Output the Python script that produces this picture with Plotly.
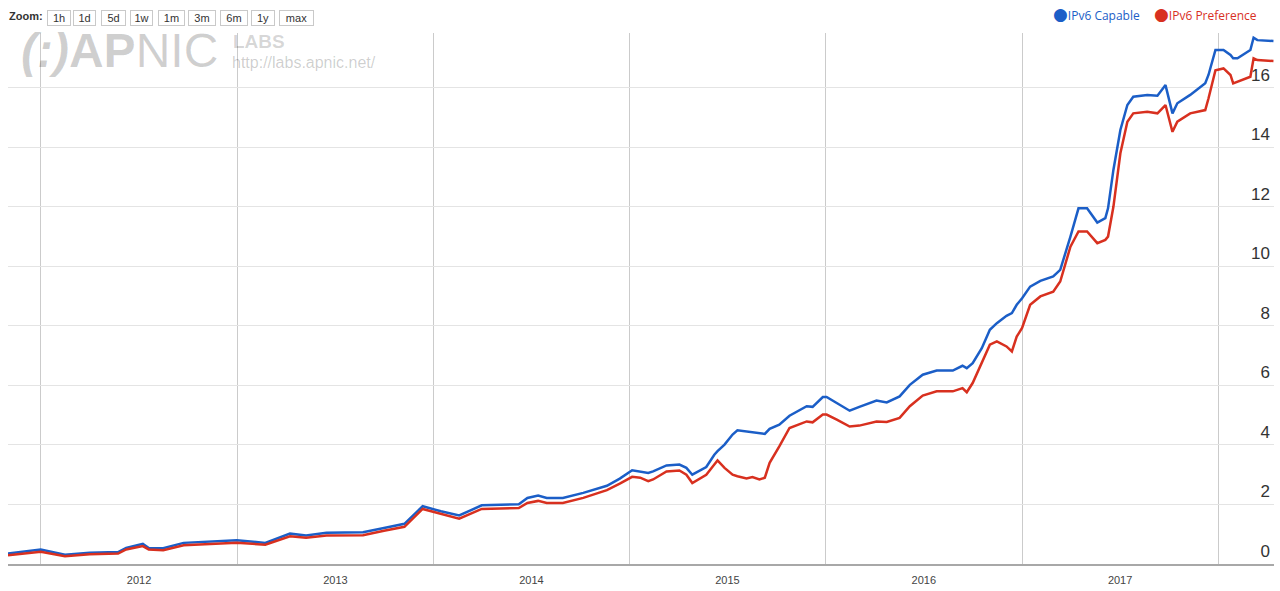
import plotly.graph_objects as go

# ---------------- data ----------------
dates = [
    "2011-11-01", "2012-01-01", "2012-02-15", "2012-04-01", "2012-05-24", "2012-06-08",
    "2012-07-09", "2012-07-20", "2012-08-16", "2012-09-23", "2012-12-31", "2013-02-22",
    "2013-04-09", "2013-05-09", "2013-06-16", "2013-08-23", "2013-10-01", "2013-11-08",
    "2013-12-12", "2014-01-15", "2014-02-18", "2014-04-01", "2014-06-09", "2014-06-25",
    "2014-07-15", "2014-07-31", "2014-08-30", "2014-10-07", "2014-11-20", "2014-12-14",
    "2015-01-06", "2015-01-21", "2015-02-05", "2015-02-14", "2015-03-11", "2015-04-04",
    "2015-04-17", "2015-04-28", "2015-05-24", "2015-06-08", "2015-06-14", "2015-06-27",
    "2015-07-12", "2015-07-21", "2015-08-07", "2015-08-18", "2015-08-31", "2015-09-10",
    "2015-09-19", "2015-10-07", "2015-10-26", "2015-11-27", "2015-12-08", "2015-12-27",
    "2016-01-03", "2016-01-22", "2016-02-15", "2016-03-04", "2016-04-05", "2016-04-24",
    "2016-05-18", "2016-06-06", "2016-06-30", "2016-07-26", "2016-08-25", "2016-09-12",
    "2016-09-20", "2016-10-01", "2016-10-18", "2016-11-02", "2016-11-15", "2016-12-03",
    "2016-12-13", "2016-12-22", "2017-01-01", "2017-01-16", "2017-02-04", "2017-02-28",
    "2017-03-13", "2017-04-01", "2017-04-16", "2017-05-02", "2017-05-21", "2017-06-05",
    "2017-06-10", "2017-06-20", "2017-07-03", "2017-07-16", "2017-07-27", "2017-08-22",
    "2017-09-10", "2017-09-25", "2017-10-08", "2017-10-17", "2017-11-10", "2017-12-08",
    "2017-12-14", "2017-12-27", "2018-01-11", "2018-01-24", "2018-01-29", "2018-02-06",
    "2018-03-02", "2018-03-08", "2018-03-15", "2018-04-14",
]
ipv6_capable = [
    0.35, 0.49, 0.31, 0.38, 0.40, 0.54,
    0.68, 0.54, 0.53, 0.71, 0.80, 0.71,
    1.02, 0.96, 1.05, 1.07, 1.21, 1.35,
    1.94, 1.77, 1.63, 1.97, 2.01, 2.22,
    2.30, 2.22, 2.22, 2.39, 2.63, 2.87,
    3.15, 3.11, 3.06, 3.11, 3.31, 3.34,
    3.23, 3.00, 3.26, 3.67, 3.79, 4.01,
    4.35, 4.49, 4.45, 4.42, 4.37, 4.37,
    4.54, 4.68, 4.98, 5.30, 5.28, 5.61,
    5.61, 5.41, 5.15, 5.28, 5.49, 5.43,
    5.63, 6.02, 6.36, 6.50, 6.50, 6.66,
    6.58, 6.75, 7.25, 7.87, 8.09, 8.34,
    8.43, 8.71, 8.93, 9.32, 9.51, 9.66,
    9.88, 11.00, 11.95, 11.95, 11.47, 11.62,
    11.95, 13.24, 14.58, 15.42, 15.70, 15.76,
    15.73, 16.09, 15.14, 15.48, 15.76, 16.15,
    16.43, 17.27, 17.27, 17.10, 16.99, 16.99,
    17.27, 17.68, 17.60, 17.57,
]
ipv6_preference = [
    0.29, 0.41, 0.26, 0.33, 0.35, 0.49,
    0.60, 0.49, 0.46, 0.63, 0.71, 0.65,
    0.93, 0.88, 0.96, 0.97, 1.12, 1.25,
    1.85, 1.68, 1.52, 1.85, 1.88, 2.05,
    2.12, 2.05, 2.05, 2.22, 2.48, 2.70,
    2.93, 2.90, 2.78, 2.84, 3.11, 3.14,
    3.00, 2.72, 3.00, 3.34, 3.48, 3.23,
    3.00, 2.95, 2.87, 2.92, 2.84, 2.90,
    3.40, 3.95, 4.57, 4.79, 4.76, 5.02,
    5.02, 4.85, 4.62, 4.65, 4.79, 4.77,
    4.91, 5.30, 5.66, 5.80, 5.80, 5.91,
    5.77, 6.08, 6.75, 7.37, 7.48, 7.31,
    7.14, 7.64, 7.93, 8.71, 8.99, 9.15,
    9.49, 10.66, 11.17, 11.17, 10.78, 10.89,
    11.00, 12.00, 13.80, 14.86, 15.14, 15.19,
    15.14, 15.42, 14.52, 14.86, 15.14, 15.25,
    15.64, 16.59, 16.65, 16.43, 16.15, 16.20,
    16.37, 16.99, 16.93, 16.90,
]
series_names = ["IPv6 Capable", "IPv6 Preference"]
y_ticks = [0, 2, 4, 6, 8, 10, 12, 14, 16]
zoom_labels = ["1h", "1d", "5d", "1w", "1m", "3m", "6m", "1y", "max"]

# ---------------- layout constants ----------------
W, H = 1280, 591
ML, MR, MT, MB = 8, 6, 33, 27
PW, PH = W - ML - MR, H - MT - MB
BLUE = "#1b5ec7"
RED = "#d8301f"
FONT = "Liberation Sans, Arial, sans-serif"
LEGEND_FONT = "Open Sans, sans-serif"


def px_x(px):
    return (px - ML) / PW


def px_y(py):
    return (H - MB - py) / PH


fig = go.Figure()
legend_ids = ["legend", "legend2"]
for name, vals, col, lid in [(series_names[0], ipv6_capable, BLUE, legend_ids[0]),
                             (series_names[1], ipv6_preference, RED, legend_ids[1])]:
    fig.add_trace(go.Scatter(
        x=dates, y=vals, mode="lines", name=name,
        line=dict(color=col, width=2.5), showlegend=False,
    ))
    # legend entry: coloured dot glyph + coloured text
    fig.add_trace(go.Scatter(
        x=[None], y=[None], mode="markers",
        marker=dict(color="rgba(0,0,0,0)", size=1),
        name=(f"<span style='color:{col};font-size:17px;font-family:DejaVu Sans'>●</span>"
              f"<span style='color:{col}'>{name}</span>"),
        showlegend=True, legend=lid,
    ))

annotations = []
# zoom control
annotations.append(dict(
    text="<b>Zoom:</b>", x=px_x(7), y=px_y(16), xref="paper", yref="paper",
    xanchor="left", yanchor="middle", showarrow=False,
    font=dict(family=FONT, size=11, color="#333"),
))
button_boxes = [(48, 70), (74, 95), (102, 125), (131, 152), (159, 184),
                (189, 215), (221, 247), (252, 274), (280, 313)]
for lab, (l, r) in zip(zoom_labels, button_boxes):
    annotations.append(dict(
        text=lab, x=px_x((l + r) / 2), y=px_y(17.5), xref="paper", yref="paper",
        xanchor="center", yanchor="middle", showarrow=False,
        width=r - l - 2, height=12, borderpad=1,
        bordercolor="#c9c9c9", borderwidth=1, bgcolor="#ffffff",
        font=dict(family=FONT, size=11, color="#333"),
    ))
# watermark logo
annotations.append(dict(
    text="<i><b>(:)</b></i><b>AP</b>NIC", x=px_x(19), y=px_y(50),
    xref="paper", yref="paper", xanchor="left", yanchor="middle", showarrow=False,
    font=dict(family=FONT, size=48, color="rgba(0,0,0,0.19)"),
))
annotations.append(dict(
    text="<b>LABS</b>", x=px_x(231), y=px_y(41), xref="paper", yref="paper",
    xanchor="left", yanchor="middle", showarrow=False,
    font=dict(family=FONT, size=19, color="rgba(0,0,0,0.17)"),
))
annotations.append(dict(
    text="http://labs.apnic.net/", x=px_x(230), y=px_y(62), xref="paper", yref="paper",
    xanchor="left", yanchor="middle", showarrow=False,
    font=dict(family=FONT, size=16, color="rgba(0,0,0,0.2)"),
))

legend_common = dict(
    orientation="h", xanchor="left", yanchor="middle",
    font=dict(family=LEGEND_FONT, size=12),
    bgcolor="rgba(0,0,0,0)", itemwidth=30, tracegroupgap=0,
)

fig.update_layout(
    width=W, height=H,
    margin=dict(l=ML, r=MR, t=MT, b=MB, pad=0, autoexpand=False),
    paper_bgcolor="#ffffff", plot_bgcolor="#ffffff",
    font=dict(family=FONT),
    showlegend=True,
    legend=dict(x=px_x(1013), y=px_y(15), **legend_common),
    legend2=dict(x=px_x(1114), y=px_y(15), **legend_common),
    annotations=annotations,
    xaxis=dict(
        type="date", range=["2011-11-01", "2018-04-15"],
        tick0="2012-01-01", dtick="M12", tickformat="%Y", ticklabelmode="period",
        showgrid=True, gridcolor="#cbcbcb", gridwidth=1,
        showline=True, linecolor="#a8a8a8", linewidth=1.5,
        ticks="", ticklabelstandoff=5,
        tickfont=dict(family=FONT, size=11, color="#444"),
        zeroline=False, fixedrange=True,
    ),
    yaxis=dict(
        range=[0, 17.84], side="right", tickvals=y_ticks,
        ticklabelposition="inside", ticklabelshift=-13, ticklabelstandoff=1,
        showgrid=True, gridcolor="#e4e4e4", gridwidth=1,
        showline=False, zeroline=False, ticks="",
        tickfont=dict(family=FONT, size=17, color="#333"),
        fixedrange=True,
    ),
)

fig.write_html("out.html", config={"displayModeBar": False},
               post_script="document.body.style.margin='0px';")
